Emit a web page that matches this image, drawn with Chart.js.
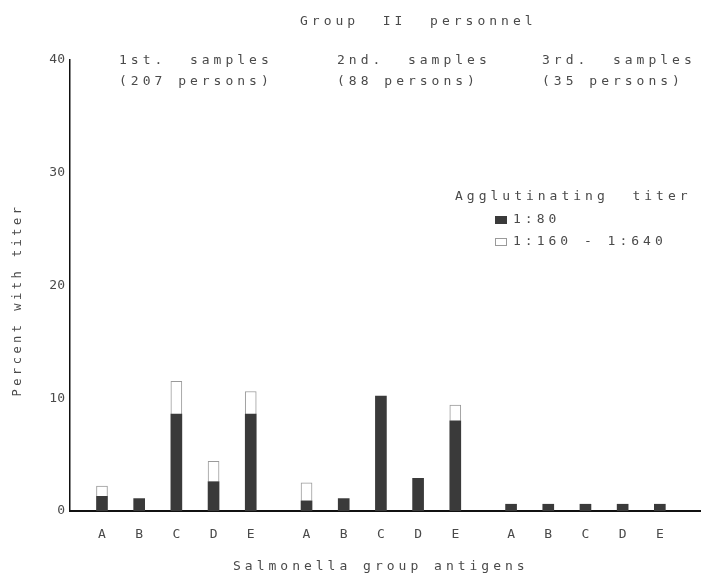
<!DOCTYPE html>
<html>
<head>
<meta charset="utf-8">
<script src="https://cdn.jsdelivr.net/npm/chart.js@4.4.1/dist/chart.umd.min.js"></script>
<style>
  html, body { margin: 0; padding: 0; background: #fff; }
  #wrap { width: 702px; height: 578px; position: relative; }
</style>
</head>
<body>
<div id="wrap"><canvas id="chart"></canvas></div>
<script>
// antigen groups, repeated for each sampling round
const antigens = ["A", "B", "C", "D", "E"];
const samples = ["1st.  samples", "2nd.  samples", "3rd.  samples"];
const persons = ["(207 persons)", "(88 persons)", "(35 persons)"];

// percent with titer, 15 bars (3 rounds x 5 antigens)
const titer80  = [1.3, 1.1, 8.6, 2.6, 8.6,   0.9, 1.1, 10.2, 2.9, 8.0,   0.6, 0.6, 0.6, 0.6, 0.6];
const titer160 = [0.9, 0.0, 2.9, 1.8, 2.0,   1.6, 0.0, 0.0,  0.0, 1.4,   0.0, 0.0, 0.0, 0.0, 0.0];

const seriesLabels = ["1:80", "1:160 - 1:640"];
const yTicks = [0, 10, 20, 30, 40];

const FONT = "'DejaVu Sans Mono', 'Liberation Mono', monospace";
const INK = "#4a4a4a";
const GAP = 0.5; // extra space between sampling rounds, in bar steps

// bar positions on the x scale: index within group + group offset
const positions = [];
samples.forEach((s, g) => {
  antigens.forEach((a, i) => positions.push(g * (antigens.length + GAP) + i));
});

const toPoints = arr => arr.map((v, k) => ({ x: positions[k], y: v }));

// heading x positions (layout only)
const headX = [119, 337, 542];

const textPlugin = {
  id: "textPlugin",
  afterDraw(chart) {
    const ctx = chart.ctx;
    ctx.save();
    ctx.fillStyle = INK;
    ctx.textBaseline = "middle";
    ctx.letterSpacing = "4px";
    ctx.font = "13px " + FONT;

    // main title
    ctx.textAlign = "left";
    ctx.fillText("Group  II  personnel", 300, 22);

    // sampling round headings
    samples.forEach((s, g) => {
      ctx.fillText(s, headX[g], 61);
      ctx.fillText(persons[g], headX[g], 82);
    });

    // x axis title
    ctx.fillText("Salmonella group antigens", 233, 567);

    // y axis title
    ctx.save();
    ctx.translate(18, 300);
    ctx.rotate(-Math.PI / 2);
    ctx.textAlign = "center";
    ctx.font = "12px " + FONT;
    ctx.letterSpacing = "3.5px";
    ctx.fillText("Percent with titer", 0, 0);
    ctx.restore();

    // legend
    ctx.fillText("Agglutinating  titer", 455, 197);
    const ds = chart.data.datasets;
    ds.forEach((d, k) => {
      const y = 220 + k * 22;
      ctx.fillStyle = d.backgroundColor;
      ctx.fillRect(495, y - 4, 12, 8);
      if (d.borderWidth) {
        ctx.strokeStyle = d.borderColor;
        ctx.lineWidth = 1;
        ctx.strokeRect(495.5, y - 3.5, 11, 7);
      }
      ctx.fillStyle = INK;
      ctx.fillText(d.label, 513, y);
    });
    ctx.restore();
  }
};

new Chart(document.getElementById("chart"), {
  type: "bar",
  data: {
    datasets: [
      {
        label: seriesLabels[0],
        data: toPoints(titer80),
        backgroundColor: "#3a3a3a",
        borderWidth: 0,
        barThickness: 11
      },
      {
        label: seriesLabels[1],
        data: toPoints(titer160),
        backgroundColor: "#ffffff",
        borderColor: "#9a9a9a",
        borderWidth: 1,
        borderSkipped: "bottom",
        barThickness: 11
      }
    ]
  },
  options: {
    responsive: true,
    maintainAspectRatio: false,
    animation: false,
    layout: { padding: { top: 60, right: 2, left: 0, bottom: 0 } },
    plugins: {
      legend: { display: false },
      title: { display: false },
      tooltip: { enabled: false }
    },
    scales: {
      x: {
        type: "linear",
        stacked: true,
        offset: false,
        min: -0.86,
        max: positions[positions.length - 1] + 1.08,
        afterBuildTicks(scale) {
          scale.ticks = positions.map(v => ({ value: v }));
        },
        afterFit(scale) { scale.height = 67; },
        grid: { display: false, drawTicks: false },
        border: { display: true, color: "#111", width: 2 },
        ticks: {
          autoSkip: false,
          maxRotation: 0,
          padding: 16,
          color: INK,
          font: { family: FONT, size: 13 },
          callback: (v, i) => antigens[i % antigens.length]
        }
      },
      y: {
        stacked: true,
        min: yTicks[0],
        max: yTicks[yTicks.length - 1],
        afterBuildTicks(scale) {
          scale.ticks = yTicks.map(v => ({ value: v }));
        },
        afterFit(scale) { scale.width = 70; },
        grid: { display: false, drawTicks: false },
        border: { display: true, color: "#111", width: 1.5 },
        ticks: {
          padding: 5,
          color: INK,
          font: { family: FONT, size: 13 }
        }
      }
    }
  },
  plugins: [textPlugin]
});
</script>
</body>
</html>
